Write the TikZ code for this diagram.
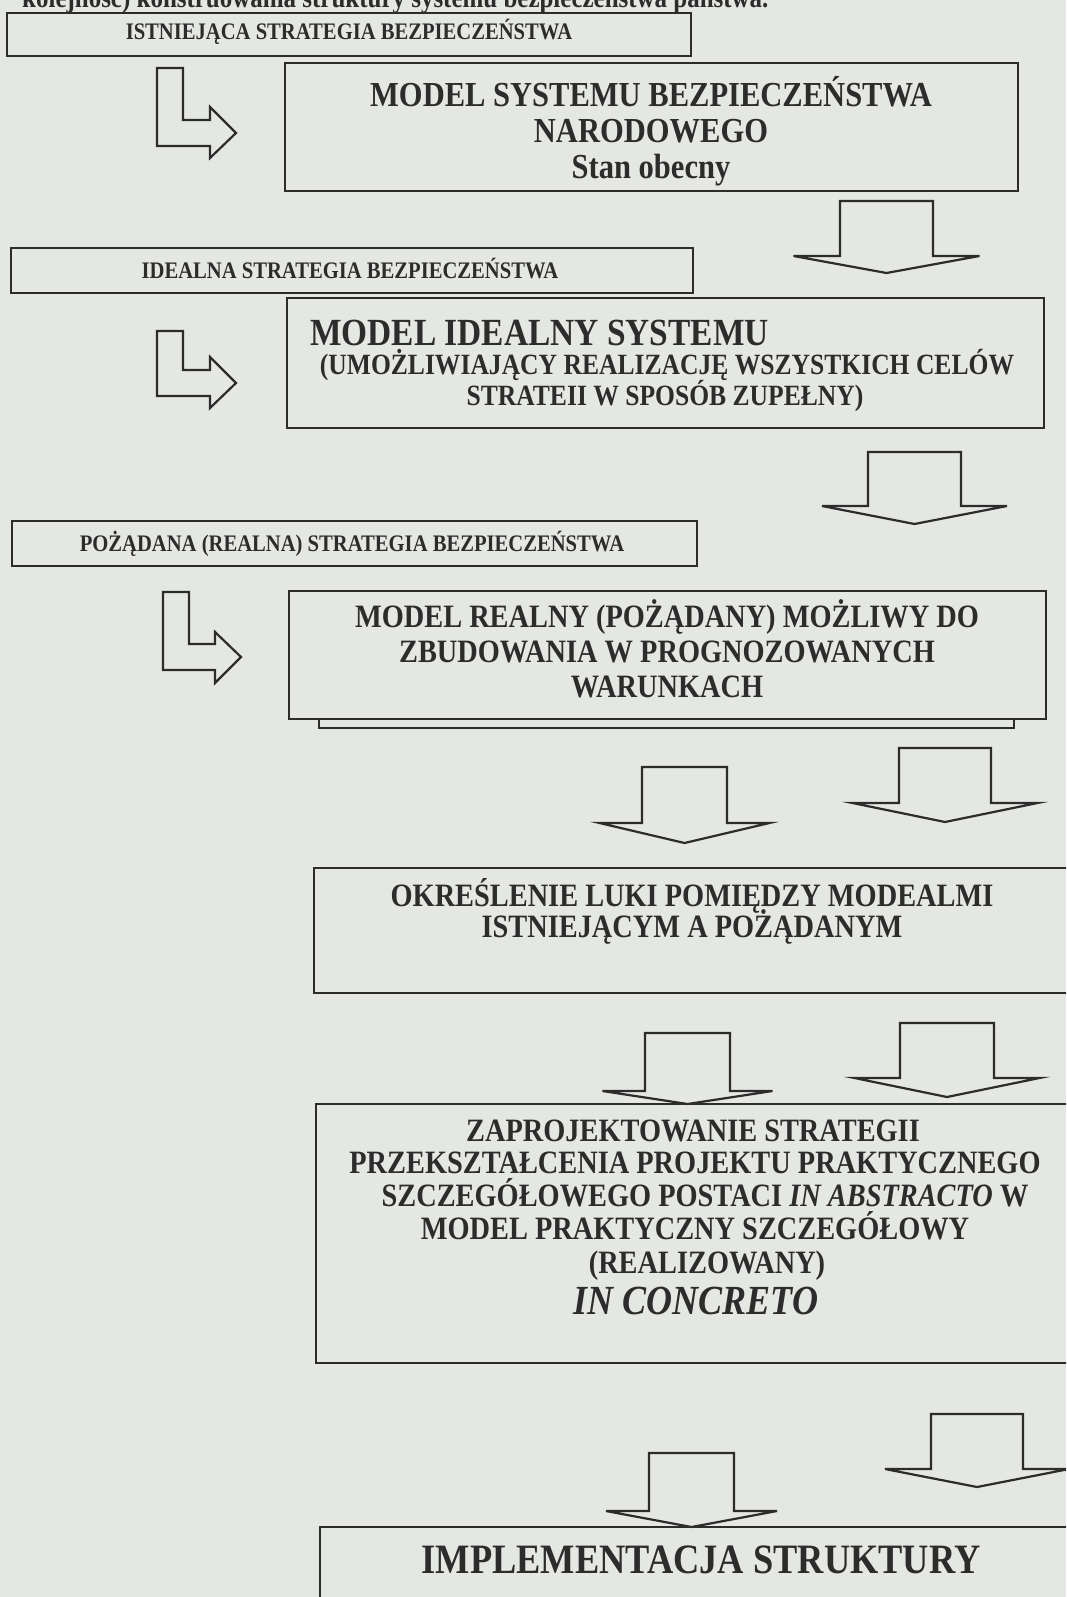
\documentclass[tikz,border=0pt]{standalone}
\usepackage{fontspec}
\setmainfont[FakeStretch=0.87]{Liberation Serif}
\usetikzlibrary{positioning}
\definecolor{paper}{HTML}{E5E7E3}
\definecolor{ink}{HTML}{2C2C2C}

% hollow block arrow pointing down: centre x, half stem, half head, top, head base, tip
\newcommand{\dnarrow}[6]{%
  \draw[blockarr] ({#1-#2},#4) -- ({#1+#2},#4) -- ({#1+#2},#5) -- ({#1+#3},#5)
    -- (#1,#6) -- ({#1-#3},#5) -- ({#1-#2},#5) -- cycle;}

\begin{document}
\begin{tikzpicture}[x=1pt, y=-1pt,
    frame/.style={draw=ink, line width=2.4pt, inner sep=0pt},
    blockarr/.style={draw=ink, line width=2.2pt, line join=miter},
    txt/.style={text=ink, anchor=base, inner sep=0pt},
    lbl/.style={txt, font=\fontsize{23.7}{28}\selectfont\bfseries},
    bigtxt/.style={txt, font=\fontsize{35.1}{40}\selectfont\bfseries},
    midtxt/.style={txt, font=\fontsize{32.6}{38}\selectfont\bfseries},
    subtxt/.style={txt, font=\fontsize{29.4}{34}\selectfont\bfseries},
    hugetxt/.style={txt, font=\fontsize{41.8}{48}\selectfont\bfseries},
]
\useasboundingbox (0,0) rectangle (1066,1597);
\fill[paper] (0,0) rectangle (1066,1597);
\clip (0,0) rectangle (1066,1597);

\node[txt, anchor=base west, font=\fontsize{28.7}{34}\selectfont\bfseries] (head) at (22,8)
  {kolejność) konstruowania struktury systemu bezpieczeństwa państwa.};

% boxes
\node[frame, minimum width=684, minimum height=43] (istn) at (349,34.5) {};
\node[frame, minimum width=733, minimum height=128] (obecny) at (651.5,127) {};
\node[frame, minimum width=682, minimum height=45] (ideal) at (352,270.5) {};
\node[frame, minimum width=757, minimum height=130] (idealny) at (665.5,363) {};
\node[frame, minimum width=685, minimum height=45] (pozad) at (354.5,543.5) {};
\node[frame, minimum width=757, minimum height=128] (realny) at (667.5,655) {};
\node[frame, minimum width=766, minimum height=125] (luka) at (697,930.5) {};
\node[frame, minimum width=764, minimum height=259] (projekt) at (698,1233.5) {};
\node[frame, minimum width=760, minimum height=93] (impl) at (700,1573.5) {};
\draw[frame] ([xshift=31pt]realny.south west) -- ++(0,8) -| ([xshift=-33pt]realny.south east);

% texts
\node[lbl] (t1) at (349,40) {ISTNIEJĄCA STRATEGIA BEZPIECZEŃSTWA};
\node[bigtxt] (t2a) at (651,107) {MODEL SYSTEMU BEZPIECZEŃSTWA};
\node[bigtxt] (t2b) at (651,143) {NARODOWEGO};
\node[bigtxt] (t2c) at (651,179) {Stan obecny};
\node[lbl] (t3) at (350,279) {IDEALNA STRATEGIA BEZPIECZEŃSTWA};
\node[txt, anchor=base west, font=\fontsize{38.4}{44}\selectfont\bfseries] (t4a) at (310,345) {MODEL IDEALNY SYSTEMU};
\node[subtxt] (t4b) at (667,374) {(UMOŻLIWIAJĄCY REALIZACJĘ WSZYSTKICH CELÓW};
\node[subtxt] (t4c) at (665,405) {STRATEII W SPOSÓB ZUPEŁNY)};
\node[lbl] (t5) at (352,551) {POŻĄDANA (REALNA) STRATEGIA BEZPIECZEŃSTWA};
\node[midtxt] (t6a) at (667,627) {MODEL REALNY (POŻĄDANY) MOŻLIWY DO};
\node[midtxt] (t6b) at (667,662) {ZBUDOWANIA W PROGNOZOWANYCH};
\node[midtxt] (t6c) at (667,697) {WARUNKACH};
\node[midtxt] (t7a) at (692,906) {OKREŚLENIE LUKI POMIĘDZY MODEALMI};
\node[midtxt] (t7b) at (692,937) {ISTNIEJĄCYM A POŻĄDANYM};
\node[midtxt] (t8a) at (693,1141) {ZAPROJEKTOWANIE STRATEGII};
\node[midtxt] (t8b) at (695,1173) {PRZEKSZTAŁCENIA PROJEKTU PRAKTYCZNEGO};
\node[midtxt] (t8c) at (705,1206) {SZCZEGÓŁOWEGO POSTACI \textit{IN ABSTRACTO} W};
\node[midtxt] (t8d) at (695,1239) {MODEL PRAKTYCZNY SZCZEGÓŁOWY};
\node[midtxt] (t8e) at (707,1273) {(REALIZOWANY)};
\node[hugetxt, font=\fontsize{41.4}{48}\selectfont\bfseries\itshape] (t8f) at (696,1314) {IN CONCRETO};
\node[hugetxt] (t9) at (701,1573) {IMPLEMENTACJA STRUKTURY};

% bent arrows on the left
\draw[blockarr] (157,68) -- (183,68) -- (183,120) -- (210,120) -- (210,107) -- (236,133)
  -- (210,158) -- (210,146) -- (157,146) -- cycle;
\draw[blockarr] (157,331) -- (183,331) -- (183,370) -- (210,370) -- (210,357) -- (236,383)
  -- (210,408) -- (210,396) -- (157,396) -- cycle;
\draw[blockarr] (163,592) -- (189,592) -- (189,644) -- (215,644) -- (215,632) -- (241,657)
  -- (215,683) -- (215,670) -- (163,670) -- cycle;

% down arrows
\dnarrow{886.5}{46.5}{93}{201}{256}{273}
\dnarrow{914.5}{46.5}{92.5}{452}{506}{524}
\dnarrow{684.5}{42.5}{85}{767}{823}{843}
\dnarrow{945}{46}{92.5}{748}{803}{822}
\dnarrow{687.5}{42.5}{85}{1033}{1091}{1104}
\dnarrow{947}{47}{92.5}{1023}{1078}{1097}
\dnarrow{691.5}{42.5}{85.5}{1453}{1511}{1527}
\dnarrow{977}{46}{92}{1414}{1469}{1487}

\end{tikzpicture}
\end{document}
